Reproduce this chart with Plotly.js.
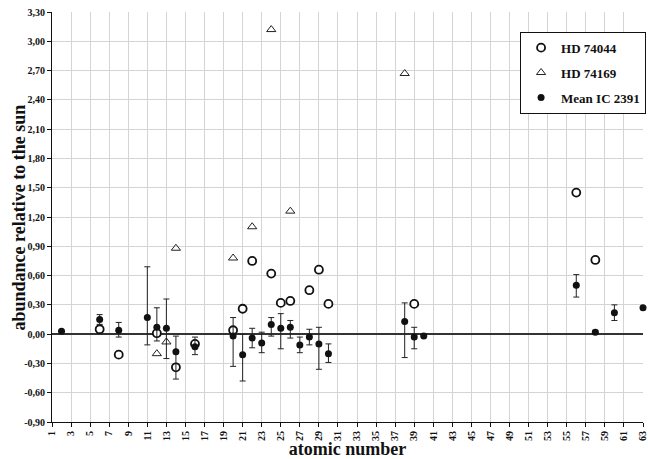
<!DOCTYPE html>
<html>
<head>
<meta charset="utf-8">
<script src="https://cdn.plot.ly/plotly-3.0.1.min.js"></script>
<style>html,body{margin:0;padding:0;background:#fff;}#chart{width:648px;height:459px;}</style>
</head>
<body>
<div id="chart"></div>
<script>
// HD 74044 (open circles)
const hd74044Z = [6, 8, 12, 14, 16, 20, 21, 22, 24, 25, 26, 28, 29, 30, 39, 56, 58];
const hd74044Y = [0.05, -0.21, 0.01, -0.34, -0.10, 0.04, 0.26, 0.75, 0.62, 0.32, 0.34, 0.45, 0.66, 0.31, 0.31, 1.45, 0.76];

// HD 74169 (open triangles)
const hd74169Z = [12, 13, 14, 20, 22, 24, 26, 38];
const hd74169Y = [-0.20, -0.08, 0.88, 0.78, 1.10, 3.12, 1.26, 2.67];

// Mean IC 2391 (filled circles with error bars)
const meanZ = [2, 6, 8, 11, 12, 13, 14, 16, 20, 21, 22, 23, 24, 25, 26, 27, 28, 29, 30, 38, 39, 40, 56, 58, 60, 63];
const meanY = [0.03, 0.15, 0.04, 0.17, 0.07, 0.06, -0.18, -0.13, -0.02, -0.21, -0.04, -0.09, 0.10, 0.06, 0.07, -0.11, -0.03, -0.10, -0.20, 0.13, -0.03, -0.02, 0.50, 0.02, 0.22, 0.27];
const meanErrPlus = [0, 0.05, 0.08, 0.52, 0.20, 0.30, 0.16, 0.10, 0.19, 0.21, 0.10, 0.11, 0.07, 0.15, 0.07, 0.08, 0.08, 0.17, 0.10, 0.19, 0.10, 0, 0.11, 0.02, 0.08, 0];
const meanErrMinus = [0, 0.05, 0.07, 0.28, 0.14, 0.31, 0.28, 0.08, 0.31, 0.27, 0.10, 0.10, 0.12, 0.21, 0.11, 0.08, 0.08, 0.26, 0.09, 0.37, 0.12, 0, 0.12, 0.02, 0.08, 0];

// Tick labels
const yTickVals = [-0.9, -0.6, -0.3, 0, 0.3, 0.6, 0.9, 1.2, 1.5, 1.8, 2.1, 2.4, 2.7, 3.0, 3.3];
const yTickText = ["-0,90", "-0,60", "-0,30", "0,00", "0,30", "0,60", "0,90", "1,20", "1,50", "1,80", "2,10", "2,40", "2,70", "3,00", "3,30"];
const xTickVals = [1,3,5,7,9,11,13,15,17,19,21,23,25,27,29,31,33,35,37,39,41,43,45,47,49,51,53,55,57,59,61,63];

const FONT = "Liberation Serif, Times New Roman, serif";

const traces = [
  {
    x: hd74044Z, y: hd74044Y, name: "HD 74044", type: "scatter", mode: "markers", legendgroup: "a",
    marker: {symbol: "circle", size: 8, color: "#ffffff", line: {color: "#111", width: 1.8}},
    cliponaxis: false
  },
  {
    x: hd74169Z, y: hd74169Y, name: "HD 74169", type: "scatter", mode: "markers", legendgroup: "b",
    marker: {symbol: "triangle-up-open", size: 8, color: "#222", line: {color: "#222", width: 1}},
    cliponaxis: false
  },
  {
    x: meanZ, y: meanY, name: "Mean IC 2391", type: "scatter", mode: "markers", legendgroup: "c",
    marker: {symbol: "circle", size: 7, color: "#111"},
    error_y: {type: "data", symmetric: false, array: meanErrPlus, arrayminus: meanErrMinus,
              color: "#222", thickness: 1, width: 3},
    cliponaxis: false
  }
];

const layout = {
  width: 648, height: 459,
  margin: {l: 52, r: 5, t: 12, b: 37, pad: 0, autoexpand: false},
  paper_bgcolor: "#fff", plot_bgcolor: "#fff",
  font: {family: FONT, color: "#111", size: 10},
  showlegend: true,
  legend: {
    x: 0.792, y: 0.952, xanchor: "left", yanchor: "top",
    bgcolor: "#fff", bordercolor: "#111", borderwidth: 1,
    font: {family: FONT, size: 13, color: "#111", weight: "bold"},
    traceorder: "grouped", tracegroupgap: 5, itemwidth: 30
  },
  xaxis: {
    range: [1, 63], tickmode: "array", tickvals: xTickVals,
    tickangle: -90, tickfont: {family: FONT, size: 10, weight: "bold"},
    ticklabeloverflow: "allow",
    showgrid: true, gridcolor: "#d4d4d4", gridwidth: 1,
    showline: true, linecolor: "#111", linewidth: 1,
    ticks: "outside", ticklen: 4, tickcolor: "#111",
    zeroline: false, automargin: false,
    title: {text: "atomic number", font: {family: FONT, size: 18, weight: "bold"}}
  },
  yaxis: {
    range: [-0.9, 3.3], tickmode: "array", tickvals: yTickVals, ticktext: yTickText,
    tickfont: {family: FONT, size: 10, weight: "bold"},
    ticklabeloverflow: "allow",
    showgrid: true, gridcolor: "#d4d4d4", gridwidth: 1,
    showline: true, linecolor: "#111", linewidth: 1,
    ticks: "outside", ticklen: 4, tickcolor: "#111",
    zeroline: true, zerolinecolor: "#333", zerolinewidth: 1.5,
    automargin: false
  },
  annotations: [{
    text: "abundance relative to the sun", textangle: -90,
    xref: "paper", yref: "paper", x: -0.055, y: 0.5, xanchor: "center", yanchor: "middle",
    showarrow: false, font: {family: FONT, size: 18, weight: "bold", color: "#111"}
  }]
};

Plotly.newPlot("chart", traces, layout, {staticPlot: true, displayModeBar: false});
</script>
</body>
</html>
